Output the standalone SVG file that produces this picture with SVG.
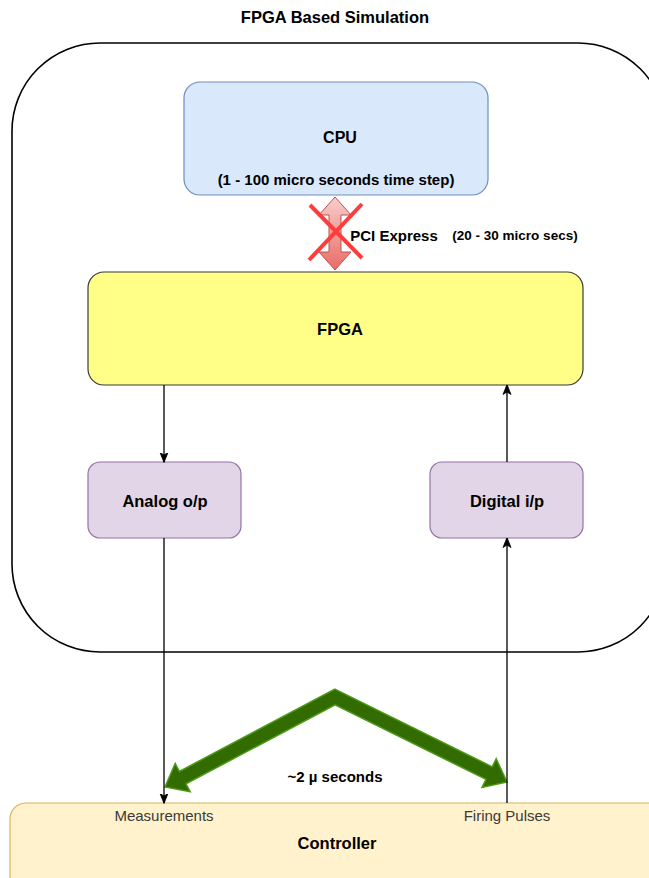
<svg xmlns="http://www.w3.org/2000/svg" width="649" height="878" viewBox="0 0 649 878">
  <defs>
    <style>
      text { font-family: "Liberation Sans", Arial, sans-serif; fill: #000; text-anchor: middle; dominant-baseline: central; }
      .b { font-weight: bold; }
      .box { stroke-width: 1.2; }
      .cpu { fill: #dae8fc; stroke: #6c8ebf; }
      .fpga { fill: #ffff88; stroke: #36393d; }
      .io { fill: #e1d5e7; stroke: #9673a6; }
      .ctrl { fill: #fff2cc; stroke: #d6b656; }
      .port { font-size: 15px; fill: #3a3a3a; }
      .wire { fill: none; stroke: #000; stroke-width: 1.3; }
      .cross { stroke: #ff3b3b; stroke-width: 4; stroke-linecap: butt; }
    </style>
    <marker id="arrow" viewBox="0 0 10 10" refX="9.5" refY="5" markerWidth="10" markerHeight="10" markerUnits="userSpaceOnUse" orient="auto">
      <path d="M0,1 L10,5 L0,9 L2.5,5 Z" fill="#000" stroke="#000" stroke-width="0.8"/>
    </marker>
    <linearGradient id="pciFill" x1="0" y1="0" x2="0" y2="1">
      <stop offset="0" stop-color="#f8cecc"/>
      <stop offset="1" stop-color="#ea6b66"/>
    </linearGradient>
  </defs>

  <rect width="649" height="878" fill="#fff"/>

  <!-- title and enclosing simulator frame -->
  <text class="b" x="335" y="17" style="font-size:16.5px">FPGA Based Simulation</text>
  <rect id="frame" x="12" y="43" width="654" height="609" rx="88" ry="88" fill="none" stroke="#000" stroke-width="1.6"/>

  <!-- controller (runs past the page edges) -->
  <g id="controller">
    <rect class="box ctrl" x="10" y="803" width="660" height="100" rx="16" ry="16"/>
    <text class="port" x="164" y="815">Measurements</text>
    <text class="port" x="507" y="815">Firing Pulses</text>
    <text class="b" x="337" y="843" style="font-size:16.5px">Controller</text>
  </g>

  <g id="cpu">
    <rect class="box cpu" x="184" y="82" width="304" height="113" rx="16" ry="16"/>
    <text class="b" x="340" y="137" style="font-size:16px">CPU</text>
    <text class="b" x="336" y="179" style="font-size:15px">(1 - 100 micro seconds time step)</text>
  </g>

  <g id="fpga">
    <rect class="box fpga" x="88" y="272" width="495" height="113" rx="16" ry="16"/>
    <text class="b" x="340" y="329" style="font-size:16.5px">FPGA</text>
  </g>

  <g id="analog">
    <rect class="box io" x="88" y="462" width="153" height="76" rx="12" ry="12"/>
    <text class="b" x="165" y="501" style="font-size:16.5px">Analog o/p</text>
  </g>

  <g id="digital">
    <rect class="box io" x="430" y="462" width="153" height="76" rx="12" ry="12"/>
    <text class="b" x="507" y="501" style="font-size:16.5px">Digital i/p</text>
  </g>

  <!-- PCI Express link, crossed out -->
  <g id="pci">
    <polygon points="335,197 351,215 341,215 341,252 351,252 335,270 319,252 329,252 329,215 319,215" fill="url(#pciFill)" stroke="#b85450" stroke-width="1"/>
    <line class="cross" x1="310" y1="205" x2="362" y2="258"/>
    <line class="cross" x1="362" y1="204" x2="309" y2="260"/>
    <text class="b" x="394" y="235" style="font-size:15px">PCI Express</text>
    <text class="b" x="515" y="235" style="font-size:13.5px">(20 - 30 micro secs)</text>
  </g>

  <!-- round-trip latency chevron -->
  <g id="latency">
    <polygon points="334.9,689.1 492.2,766.8 496.2,758.8 507,782 482,787.4 486,779.4 335.1,704.9 186,783.8 190.2,791.7 165,787 175.2,763.5 179.4,771.4" fill="#326b00" stroke="#4d9a17" stroke-width="1.5" stroke-linejoin="miter"/>
    <text class="b" x="335" y="776" style="font-size:15px">~2 µ seconds</text>
  </g>

  <!-- signal connectors -->
  <g id="connectors">
    <line class="wire" x1="164" y1="385" x2="164" y2="462" marker-end="url(#arrow)"/>
    <line class="wire" x1="507" y1="462" x2="507" y2="385" marker-end="url(#arrow)"/>
    <line class="wire" x1="164" y1="538" x2="164" y2="803" marker-end="url(#arrow)"/>
    <line class="wire" x1="507" y1="803" x2="507" y2="538" marker-end="url(#arrow)"/>
  </g>
</svg>
